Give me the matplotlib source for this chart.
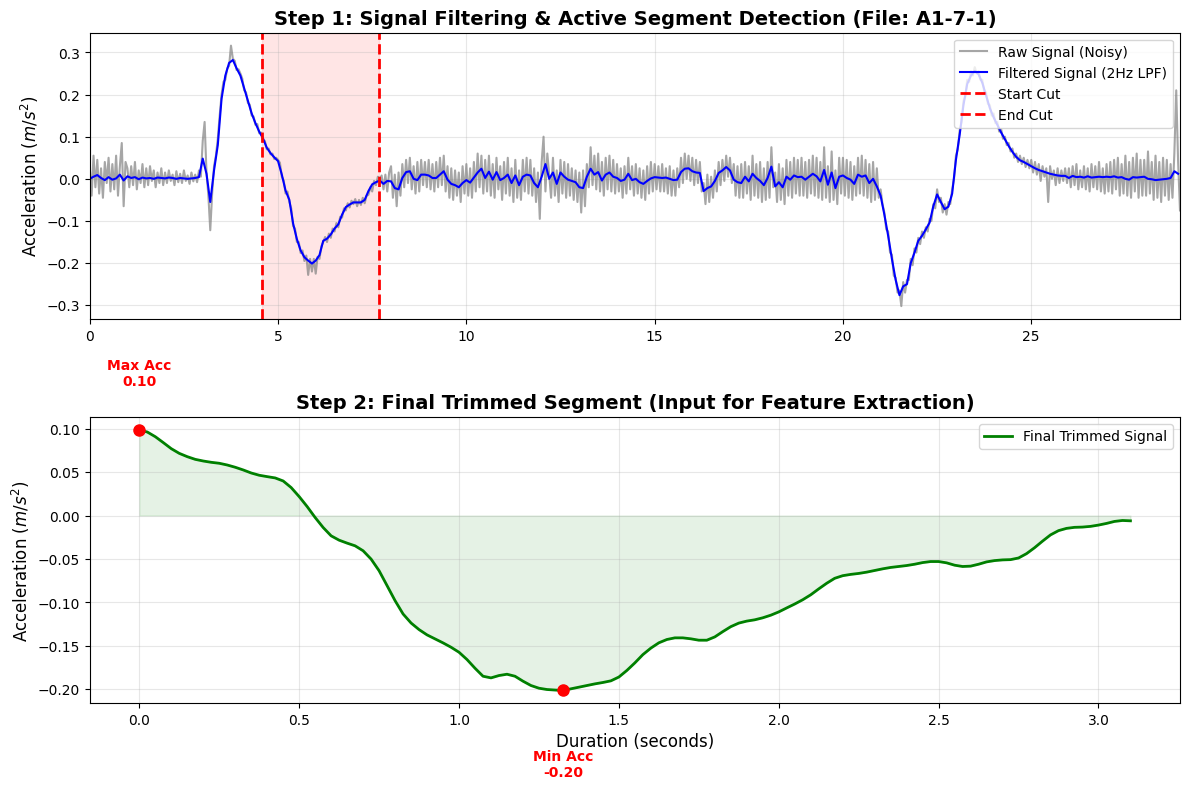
import numpy as np
import matplotlib
matplotlib.use("Agg")
import matplotlib.pyplot as plt

# values in milli m/s^2
raw_dt = 0.05
raw_milli = [
    30, -40, 55, -20, 45, -35, 25, -45, 40, -10, 50, -30, 35, -25, 55, -40, 30, 85, -65, 40,
    25, -20, 30, -15, 40, -25, 20, -10, 35, -20, 25, -15, 30, -5, 20, -20, 15, -10, 25, -15,
    15, -10, 20, -5, 10, -15, 18, -8, 12, -10, 20, -5, 8, -12, 15, -6, 10, -8, 20, 5,
    90, 135, 15, -40, -122, -35, 30, 55, 95, 150, 200, 230, 235, 262, 268, 316, 285, 280, 258, 260,
    250, 238, 210, 205, 180, 176, 150, 148, 128, 130, 108, 110, 92, 90, 70, 72, 58, 60, 47, 50,
    45, 38, 5, -4, -35, -30, -55, -70, -112, -118, -150, -150, -176, -170, -195, -182, -228, -190, -220, -190,
    -225, -185, -190, -160, -150, -138, -150, -130, -140, -118, -125, -105, -115, -90, -92, -70, -75, -58, -68, -52,
    -60, -48, -65, -50, -62, -45, -58, -40, -38, -20, -30, -5, -15, 5, -2, 8, -25, 10, -30, 15,
    30, -45, 10, -65, 15, -40, 35, -20, 45, -10, 50, -25, 30, -35, 40, -30, 45, -15, 40, -20,
    45, -25, 35, -30, 40, -20, 50, -15, 55, -30, 30, -45, 25, -50, 20, -40, 15, -55, 30, -35,
    35, -40, 25, -45, 40, -30, 60, -20, 55, -35, 45, -30, 55, -40, 35, -45, 50, -25, 30, -50,
    40, -35, 50, -40, 25, -55, 45, -45, 20, -50, 45, -30, 50, -35, 45, -40, 25, -55, 15, -95,
    40, 100, -30, 60, 10, -45, 50, -40, 20, -55, 45, -35, 40, -45, 35, -40, 25, -50, 20, -55,
    15, -80, 20, -65, 35, -20, 75, -15, 55, -25, 60, -30, 40, -40, 50, -25, 55, -30, 45, -35,
    35, -30, 25, -45, 30, -35, 50, -25, 30, -40, 35, -35, 25, -45, 20, -50, 30, -35, 40, -30,
    35, -25, 30, -30, 35, -30, 25, -35, 30, -40, 20, -40, 25, -20, 50, -10, 60, 0, 55, -5,
    50, -15, 45, -10, 40, -30, -10, -60, 10, -55, 5, -45, 20, -30, 40, -15, 45, -5, 55, 5,
    50, -10, 35, -40, 30, -45, 35, -45, 40, -35, 30, -50, 55, -40, 35, -45, 40, -55, 25, -50,
    40, -45, 75, -20, 15, -55, 35, -50, 25, -60, 45, -40, 40, -45, 50, -35, 45, -40, 50, -40,
    40, -45, 45, -35, 55, -40, 50, -45, 40, -50, 75, -45, 30, -55, 65, -50, 20, -60, 50, -35,
    50, -40, 45, -45, 40, -50, 30, -40, 50, -35, 55, -40, 45, -45, 35, -55, 40, -50, 25, -45,
    -25, -60, -80, -120, -125, -175, -180, -230, -235, -270, -265, -302, -245, -270, -240, -240, -190, -205, -165, -175,
    -140, -155, -125, -140, -115, -125, -95, -100, -60, -70, -25, -55, -45, -80, -60, -85, -55, -60, -25, 0,
    55, 70, 115, 135, 185, 195, 235, 230, 255, 245, 265, 250, 255, 235, 235, 208, 205, 178, 175, 150,
    155, 132, 135, 112, 118, 95, 100, 80, 85, 65, 72, 50, 60, 40, 55, 35, 50, 28, 45, 25,
    45, 15, 40, 10, 35, -5, 30, 5, 25, -55, 30, 0, 20, -15, 25, -10, 20, -5, 25, -10,
    25, -20, 30, -15, 35, -25, 20, -20, 30, -25, 25, -30, 35, -20, 30, -25, 40, -30, 25, -35,
    35, -30, 40, -35, 45, -25, 50, -40, 35, -35, 55, -40, 40, -45, 50, -30, 60, -45, 45, -40,
    45, -40, 65, -35, 40, -50, 55, -45, 40, -55, 50, -40, 45, -50, 35, -45, 60, 210, 40, -75,
]

filt_dt = 0.1
filtered_milli = [
    0, 5, 9, 2, -3, 4, -2, 1, 10, -4,
    6, 2, 4, -1, 3, 1, 2, 0, 3, 2,
    1, 3, 2, 0, 2, 1, 0, 1, 2, 4,
    48, 12, -55, 20, 80, 190, 245, 275, 282, 262,
    245, 215, 185, 155, 132, 112, 96, 74, 61, 51,
    42, 10, -28, -50, -106, -143, -170, -186, -194, -201,
    -194, -181, -147, -142, -132, -118, -108, -85, -67, -61,
    -56, -56, -56, -50, -29, -13, -8, -4, -12, -5,
    -6, -22, -25, 2, 16, 18, 0, -3, 10, 10,
    8, 2, 2, 10, 18, -2, -12, -15, -20, -10,
    -3, -9, 3, 15, 24, 2, 17, -2, 16, -3,
    2, 10, -10, 8, -15, 5, 10, 8, -10, -20,
    5, 35, 0, 15, -12, 15, 5, -2, -5, -8,
    -20, -22, 5, 24, 10, 16, -4, 10, 15, 5,
    2, -5, -2, 12, -3, 0, -8, -12, -5, 1,
    4, 3, 2, 3, 0, -3, -2, 16, 24, 25,
    18, 15, 14, -29, -22, -18, -5, 14, 20, 28,
    20, -2, -8, -10, 5, -6, 12, 2, -5, -15,
    2, 29, -18, -8, -20, 5, -2, 8, 4, 5,
    -2, 5, 12, 6, -6, 21, -14, 15, -22, 5,
    8, 2, -2, -12, 10, 5, 8, -10, 0, -18,
    -40, -85, -135, -190, -240, -276, -255, -250, -200, -175,
    -147, -135, -120, -104, -65, -37, -55, -72, -66, -35,
    45, 105, 175, 225, 245, 256, 248, 228, 198, 168,
    146, 128, 110, 94, 78, 64, 52, 44, 40, 35,
    30, 25, 21, 18, 15, 12, 10, 8, 7, 7,
    2, 7, 4, 5, 3, 6, 3, 4, 5, 4,
    5, 4, 6, 3, 4, 0, -2, 4, 3, 4,
    5, 0, -1, -3, -2, -1, 0, 2, 18, 12,
]

start_cut = 4.57
end_cut = 7.68

seg_dt = 0.025
segment_milli = [
    98.5, 96.2, 90.8, 84.0, 77.0, 71.6, 67.8, 64.7, 62.8, 61.3,
    60.2, 58.2, 55.6, 52.5, 49.0, 46.4, 44.8, 43.3, 39.8, 32.2,
    21.8, 10.3, -2.3, -13.8, -23.4, -28.4, -31.8, -34.9, -40.6, -50.2,
    -63.6, -80.8, -98.1, -113.4, -123.8, -131.4, -137.5, -142.1, -146.7, -151.7,
    -157.5, -165.9, -175.9, -185.1, -187.0, -184.3, -182.8, -185.1, -190.8, -195.8,
    -198.9, -200.4, -201.0, -201.5, -199.6, -197.7, -195.8, -193.9, -192.3, -190.4,
    -186.0, -178.4, -169.7, -160.2, -152.7, -146.6, -142.8, -140.9, -140.9, -142.0,
    -143.6, -143.6, -139.8, -133.7, -128.0, -123.9, -121.6, -120.1, -117.8, -114.8,
    -111.0, -106.4, -101.9, -97.0, -91.3, -84.5, -78.0, -72.3, -69.3, -67.8,
    -66.7, -65.2, -63.3, -61.4, -59.8, -58.7, -57.6, -56.1, -54.2, -53.0,
    -53.0, -54.5, -57.2, -58.7, -58.3, -56.1, -53.4, -51.9, -51.1, -50.8,
    -48.9, -43.9, -37.1, -29.5, -22.3, -17.4, -14.8, -13.6, -13.3, -12.5,
    -11.0, -9.1, -6.8, -5.7, -6.1,
]

raw = np.array(raw_milli) / 1000
t_raw = np.arange(len(raw)) * raw_dt
filtered = np.array(filtered_milli) / 1000
t_filt = np.arange(len(filtered)) * filt_dt
segment = np.array(segment_milli) / 1000
t_seg = np.arange(len(segment)) * seg_dt

fig, (ax1, ax2) = plt.subplots(2, 1, figsize=(12, 8))

# step 1
ax1.plot(t_raw, raw, color='gray', alpha=0.7, lw=1.5, label='Raw Signal (Noisy)')
ax1.plot(t_filt, filtered, color='blue', lw=1.5, label='Filtered Signal (2Hz LPF)')
ax1.axvline(start_cut, color='red', ls='--', lw=2, label='Start Cut')
ax1.axvline(end_cut, color='red', ls='--', lw=2, label='End Cut')
ax1.axvspan(start_cut, end_cut, color='red', alpha=0.1)
ax1.set_xlim(0, t_raw[-1])
ax1.set_title('Step 1: Signal Filtering & Active Segment Detection (File: A1-7-1)',
              fontsize=14, fontweight='bold')
ax1.set_ylabel('Acceleration ($m/s^2$)', fontsize=12)
ax1.legend(loc='upper right')
ax1.grid(True, alpha=0.3)

# step 2
ax2.plot(t_seg, segment, color='green', lw=2, label='Final Trimmed Signal')
ax2.fill_between(t_seg, segment, 0, color='green', alpha=0.1)
i_max = np.argmax(segment)
i_min = np.argmin(segment)
ax2.plot(t_seg[i_max], segment[i_max], 'ro', markersize=8)
ax2.plot(t_seg[i_min], segment[i_min], 'ro', markersize=8)
ax2.annotate(f'Max Acc\n{segment[i_max]:.2f}', xy=(t_seg[i_max], segment[i_max]),
             xytext=(0, 30), textcoords='offset points', ha='center', va='bottom',
             color='red', fontweight='bold')
ax2.annotate(f'Min Acc\n{segment[i_min]:.2f}', xy=(t_seg[i_min], segment[i_min]),
             xytext=(0, -42), textcoords='offset points', ha='center', va='top',
             color='red', fontweight='bold')
ax2.set_title('Step 2: Final Trimmed Segment (Input for Feature Extraction)',
              fontsize=14, fontweight='bold')
ax2.set_xlabel('Duration (seconds)', fontsize=12)
ax2.set_ylabel('Acceleration ($m/s^2$)', fontsize=12)
ax2.legend(loc='upper right')
ax2.grid(True, alpha=0.3)

plt.tight_layout()
plt.savefig('out.png', dpi=100, bbox_inches='tight')
